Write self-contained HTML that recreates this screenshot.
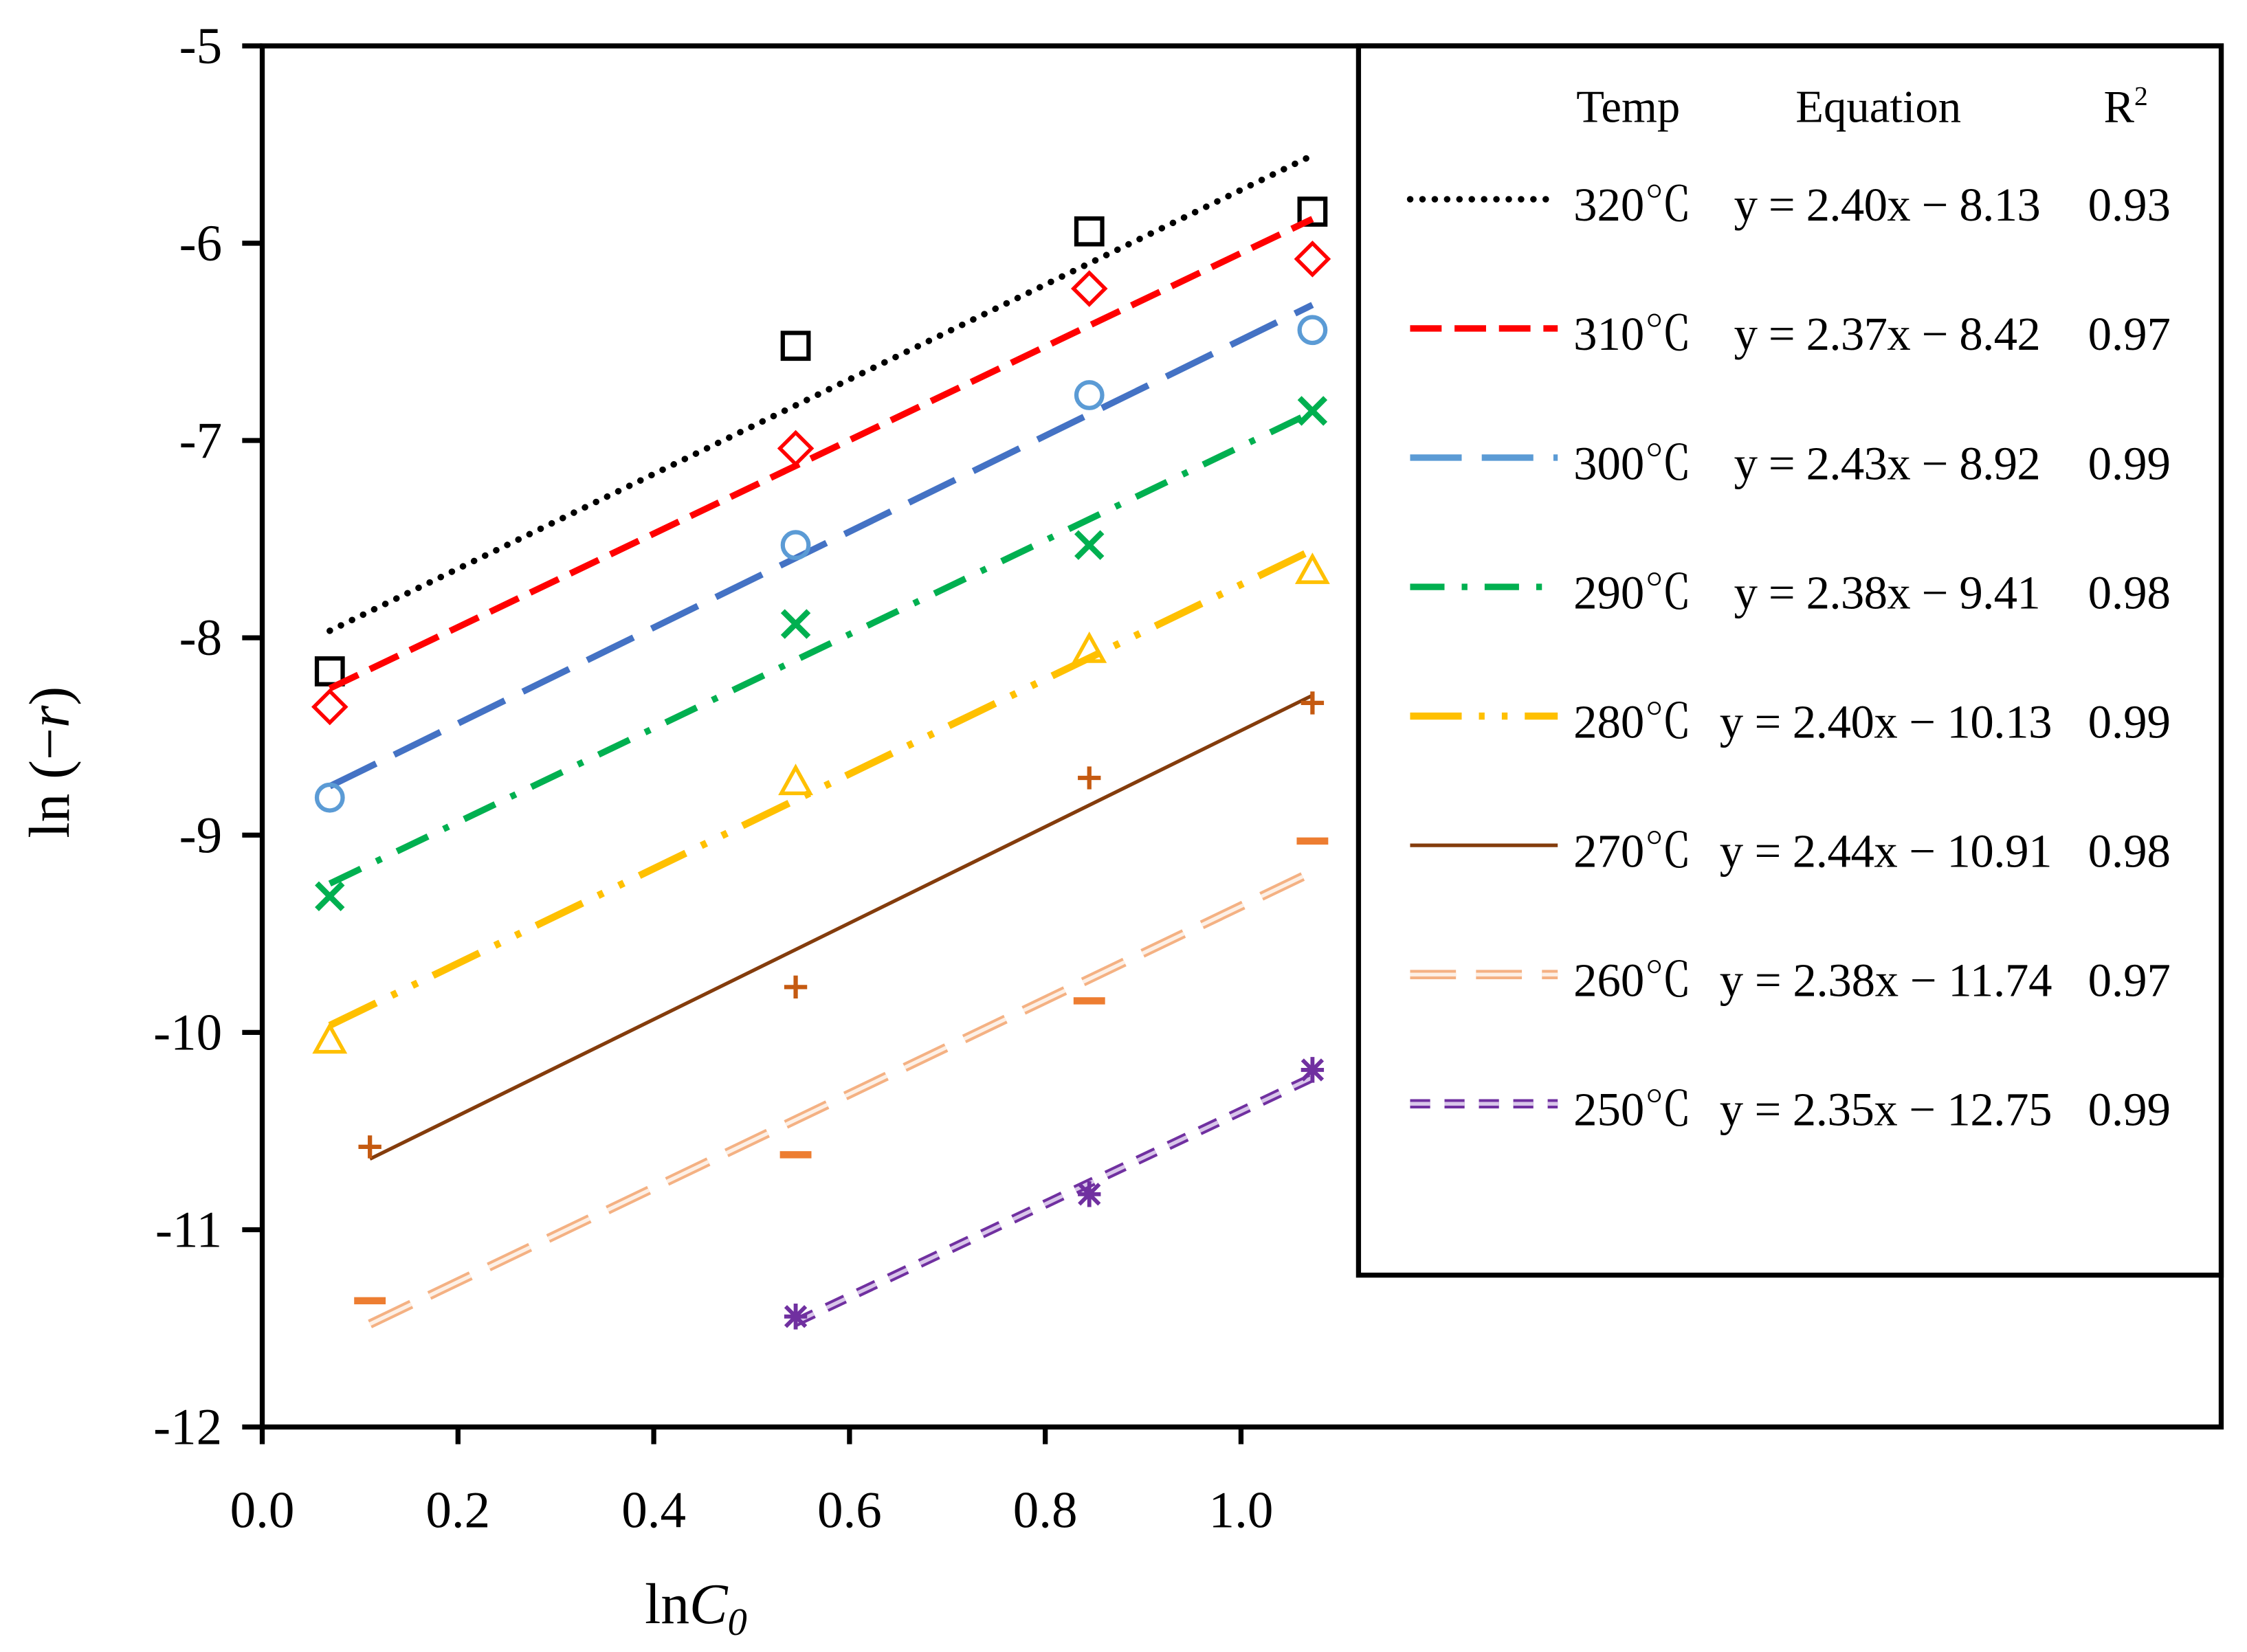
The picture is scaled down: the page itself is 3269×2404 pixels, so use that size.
<!DOCTYPE html>
<html><head><meta charset="utf-8"><style>
html,body{margin:0;padding:0;background:#fff;}
svg{display:block;}
text{font-family:"Liberation Serif","Noto Serif CJK SC",serif;fill:#000;}
</style></head><body>
<svg id="chart" width="3269" height="2404" viewBox="0 0 1568 1153" xmlns="http://www.w3.org/2000/svg">
<rect x="0" y="0" width="1568" height="1153" fill="#fff"/>
<g id="series"></g>
<g id="axes"></g>
<g id="legend"></g>
</svg>
<script>
const temps = ["320","310","300","290","280","270","260","250"];
const slopes = [2.40,2.37,2.43,2.38,2.40,2.44,2.38,2.35];
const intercepts = [-8.13,-8.42,-8.92,-9.41,-10.13,-10.91,-11.74,-12.75];
const r2 = ["0.93","0.97","0.99","0.98","0.99","0.98","0.97","0.99"];
const xs320 = [0.069,0.545,0.845,1.073], ys320 = [-8.17,-6.52,-5.94,-5.84];
const xs310 = [0.069,0.545,0.845,1.073], ys310 = [-8.35,-7.04,-6.23,-6.08];
const xs300 = [0.069,0.545,0.845,1.073], ys300 = [-8.81,-7.53,-6.77,-6.44];
const xs290 = [0.069,0.545,0.845,1.073], ys290 = [-9.31,-7.93,-7.53,-6.85];
const xs280 = [0.069,0.545,0.845,1.073], ys280 = [-10.04,-8.73,-8.06,-7.66];
const xs270 = [0.110,0.545,0.845,1.073], ys270 = [-10.58,-9.77,-8.71,-8.33];
const xs260 = [0.110,0.545,0.845,1.073], ys260 = [-11.36,-10.62,-9.84,-9.03];
const xs250 = [0.545,0.845,1.073], ys250 = [-11.44,-10.82,-10.19];
const yTicks = [-5,-6,-7,-8,-9,-10,-11,-12];
const xTicks = ["0.0","0.2","0.4","0.6","0.8","1.0"];

const NS="http://www.w3.org/2000/svg";
const L=183,T=32,B=996,R=1550;
function X(v){return L+683*v;}
function Y(v){return T+(-5-v)*(B-T)/7;}
function mk(tag,attrs,parent){const e=document.createElementNS(NS,tag);for(const k in attrs)e.setAttribute(k,attrs[k]);parent.appendChild(e);return e;}
const sg=document.getElementById('series'),ag=document.getElementById('axes'),lg=document.getElementById('legend');

const styles=[
 [{stroke:"#000","stroke-width":4.5,"stroke-dasharray":"0.1 8.5","stroke-linecap":"round"}],
 [{stroke:"#FF0000","stroke-width":4.5,"stroke-dasharray":"22 9"}],
 [{stroke:"#4472C4","stroke-width":4.5,"stroke-dasharray":"36 14"}],
 [{stroke:"#00B050","stroke-width":4.5,"stroke-dasharray":"24 12 4 12"}],
 [{stroke:"#FFC000","stroke-width":5,"stroke-dasharray":"36 12 4 12 4 12"}],
 [{stroke:"#843C0C","stroke-width":2.5}],
 [{stroke:"#F4B183","stroke-width":6.5,"stroke-dasharray":"32 14"},{stroke:"#FDF0E6","stroke-width":2.6,"stroke-dasharray":"32 14"}],
 [{stroke:"#7030A0","stroke-width":6.5,"stroke-dasharray":"14 10"},{stroke:"#D9C6EA","stroke-width":2.6,"stroke-dasharray":"14 10"}]
];
const legendColors=["#000","#FF0000","#5B9BD5","#00B050","#FFC000","#843C0C","#F4B183","#7030A0"];
const xsAll=[xs320,xs310,xs300,xs290,xs280,xs270,xs260,xs250];
const ysAll=[ys320,ys310,ys300,ys290,ys280,ys270,ys260,ys250];
const markerColors=["#000","#FF0000","#5B9BD5","#00B050","#FFC000","#C55A11","#ED7D31","#7030A0"];

function marker(i,cx,cy,g){
 const c=markerColors[i];let e;
 if(i==0) e=mk('rect',{x:cx-9,y:cy-9,width:18,height:18,fill:"none",stroke:c,"stroke-width":3},g);
 else if(i==1) e=mk('polygon',{points:`${cx},${cy-11} ${cx+11},${cy} ${cx},${cy+11} ${cx-11},${cy}`,fill:"none",stroke:c,"stroke-width":2.6},g);
 else if(i==2) e=mk('circle',{cx:cx,cy:cy,r:9,fill:"none",stroke:c,"stroke-width":3},g);
 else if(i==3) e=mk('path',{d:`M${cx-9} ${cy-9}L${cx+9} ${cy+9}M${cx+9} ${cy-9}L${cx-9} ${cy+9}`,stroke:c,"stroke-width":4},g);
 else if(i==4) e=mk('polygon',{points:`${cx},${cy-10} ${cx+10},${cy+8} ${cx-10},${cy+8}`,fill:"none",stroke:c,"stroke-width":2.6},g);
 else if(i==5) e=mk('path',{d:`M${cx-8} ${cy}L${cx+8} ${cy}M${cx} ${cy-8}L${cx} ${cy+8}`,stroke:c,"stroke-width":3},g);
 else if(i==6) e=mk('rect',{x:cx-11,y:cy-2.5,width:22,height:5,fill:c},g);
 else e=mk('path',{d:`M${cx-8} ${cy}L${cx+8} ${cy}M${cx} ${cy-9}L${cx} ${cy+9}M${cx-7} ${cy-7}L${cx+7} ${cy+7}M${cx+7} ${cy-7}L${cx-7} ${cy+7}`,stroke:c,"stroke-width":2.8},g);
 
 
}

for(let i=0;i<8;i++){
 const g=mk('g',{},sg);
 
 
 const xa=xsAll[i],ya=ysAll[i];
 const x0=xa[0],x1=xa[xa.length-1];
 for(const st of styles[i]){
  const ln=mk('line',Object.assign({x1:X(x0),y1:Y(slopes[i]*x0+intercepts[i]),x2:X(x1),y2:Y(slopes[i]*x1+intercepts[i]),fill:"none"},st),g);
  
  
 }
 for(let j=0;j<xa.length;j++) marker(i,X(xa[j]),Y(ya[j]),g);
}

let e;
e=mk('path',{d:`M${L} ${T}L${R} ${T}L${R} ${B}L${L} ${B}Z`,fill:"none",stroke:"#000","stroke-width":3.5},ag);

yTicks.forEach(v=>{
 const y=Y(v);
 const t=mk('line',{x1:L-14,y1:y,x2:L,y2:y,stroke:"#000","stroke-width":3.5},ag);
 
 const tx=mk('text',{x:L-28,y:y+12,"font-size":36,"text-anchor":"end"},ag);tx.textContent=String(v);
 
});
xTicks.forEach(s=>{
 const x=X(parseFloat(s));
 const t=mk('line',{x1:x,y1:B,x2:x,y2:B+12,stroke:"#000","stroke-width":3.5},ag);
 
 const tx=mk('text',{x:x,y:B+70,"font-size":36,"text-anchor":"middle"},ag);tx.textContent=s;
 
});
e=mk('text',{x:0,y:0,"font-size":40,"text-anchor":"middle",transform:"translate(48,532) rotate(-90)"},ag);
e.innerHTML='ln (−<tspan font-style="italic">r</tspan>)';

e=mk('text',{x:450,y:1133,"font-size":40},ag);
e.innerHTML='ln<tspan font-style="italic">C</tspan><tspan font-size="27" dy="8" font-style="italic">0</tspan>';


e=mk('rect',{x:948,y:T,width:R-948,height:890-T,fill:"#fff",stroke:"#000","stroke-width":3.5},lg);

[["Temp",1100],["Equation",1253]].forEach(([s,x])=>{
 const t=mk('text',{x:x,y:85,"font-size":32},lg);t.textContent=s;
 
});
e=mk('text',{x:1468,y:85,"font-size":32},lg);e.innerHTML='R<tspan font-size="19" dy="-12">2</tspan>';

for(let i=0;i<8;i++){
 const cy=142+i*90.2;
 const g=mk('g',{},lg);
 
 
 for(const st of styles[i]){
  const s=Object.assign({},st);if(i!=1&&i!=5&&i!=0)s.stroke=(st===styles[i][0])?legendColors[i]:st.stroke;
  mk('line',Object.assign({x1:984,y1:cy-3,x2:1087,y2:cy-3},s),g);
 }
 const big=intercepts[i]<=-10;
 const t1=mk('text',{x:1098,y:cy+12,"font-size":33},g);t1.textContent=temps[i]+"℃";
 const eq="y = "+slopes[i].toFixed(2)+"x − "+Math.abs(intercepts[i]).toFixed(2);
 const t2=mk('text',{x:big?1200:1210,y:cy+12,"font-size":33,textLength:big?232:214},g);t2.textContent=eq;
 const t3=mk('text',{x:1457,y:cy+12,"font-size":33},g);t3.textContent=r2[i];
}
</script>
</body></html>
